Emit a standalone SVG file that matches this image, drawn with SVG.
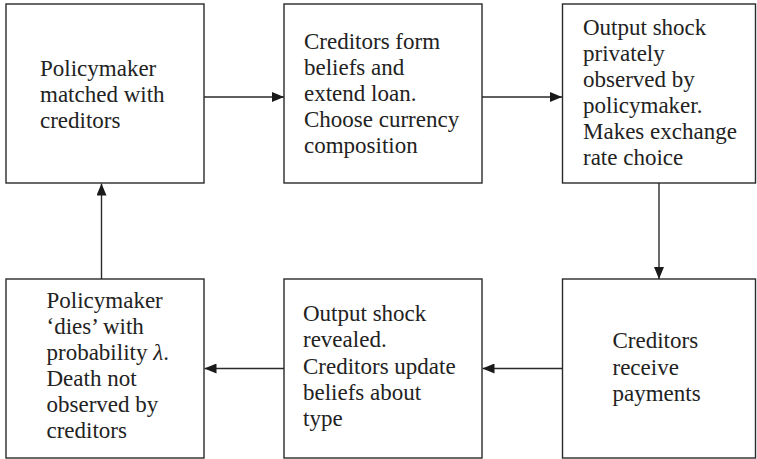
<svg xmlns="http://www.w3.org/2000/svg" width="757" height="459" viewBox="0 0 757 459">
<style>
.box{fill:#fff;stroke:#2a2a2a;stroke-width:1.4}
.lbl{font-family:'Liberation Serif','Times New Roman',serif;font-size:23px;fill:#222}
.con{stroke:#2a2a2a;stroke-width:1.4;fill:none;marker-end:url(#ah)}
</style>
<defs>
<marker id="ah" viewBox="0 0 12 10" refX="12" refY="5" markerWidth="12" markerHeight="10" markerUnits="userSpaceOnUse" orient="auto">
<path d="M0,0 L12,5 L0,10 Z" fill="#1a1a1a"/>
</marker>
</defs>
<g id="connectors">
<line class="con" x1="204" y1="97" x2="284" y2="97"/>
<line class="con" x1="482" y1="97" x2="562" y2="97"/>
<line class="con" x1="659" y1="183" x2="659" y2="279"/>
<line class="con" x1="562" y1="368.5" x2="482.5" y2="368.5"/>
<line class="con" x1="284" y1="368.5" x2="204.5" y2="368.5"/>
<line class="con" x1="101.5" y1="279" x2="101.5" y2="183.5"/>
</g>
<g id="n1">
<rect class="box" x="6" y="4" width="198" height="179"/>
<text class="lbl"><tspan x="40" y="76">Policymaker</tspan><tspan x="40" y="102">matched with</tspan><tspan x="40" y="128">creditors</tspan></text>
</g>
<g id="n2">
<rect class="box" x="284" y="4" width="198" height="179"/>
<text class="lbl"><tspan x="304" y="49">Creditors form</tspan><tspan x="304" y="75">beliefs and</tspan><tspan x="304" y="101">extend loan.</tspan><tspan x="304" y="127">Choose currency</tspan><tspan x="304" y="153">composition</tspan></text>
</g>
<g id="n3">
<rect class="box" x="562.5" y="4" width="193" height="179"/>
<text class="lbl"><tspan x="583" y="35">Output shock</tspan><tspan x="583" y="61">privately</tspan><tspan x="583" y="87">observed by</tspan><tspan x="583" y="113">policymaker.</tspan><tspan x="583" y="139">Makes exchange</tspan><tspan x="583" y="165">rate choice</tspan></text>
</g>
<g id="n4">
<rect class="box" x="562.5" y="279" width="193" height="179"/>
<text class="lbl"><tspan x="612.5" y="348">Creditors</tspan><tspan x="612.5" y="374.5">receive</tspan><tspan x="612.5" y="401">payments</tspan></text>
</g>
<g id="n5">
<rect class="box" x="284" y="279" width="198" height="179"/>
<text class="lbl"><tspan x="303" y="321">Output shock</tspan><tspan x="303" y="347">revealed.</tspan><tspan x="303" y="373.5">Creditors update</tspan><tspan x="303" y="400">beliefs about</tspan><tspan x="303" y="426">type</tspan></text>
</g>
<g id="n6">
<rect class="box" x="6" y="279" width="198" height="179"/>
<text class="lbl"><tspan x="46.5" y="308">Policymaker</tspan><tspan x="46.5" y="334">‘dies’ with</tspan><tspan x="46.5" y="360">probability <tspan font-style="italic">λ</tspan>.</tspan><tspan x="46.5" y="386">Death not</tspan><tspan x="46.5" y="412">observed by</tspan><tspan x="46.5" y="438">creditors</tspan></text>
</g>
</svg>
